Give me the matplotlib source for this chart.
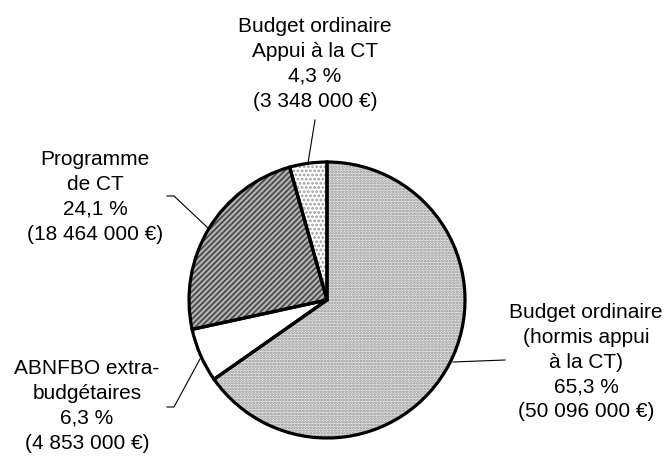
import numpy as np
import matplotlib
matplotlib.use("Agg")
import matplotlib.pyplot as plt

W, H = 666, 459

# slices, clockwise from 12 o'clock
names   = ["Budget ordinaire\n(hormis appui\nà la CT)", "ABNFBO extra-\nbudgétaires",
           "Programme\nde CT", "Budget ordinaire\nAppui à la CT"]
pcts    = ["65,3", "6,3", "24,1", "4,3"]
amounts = [50096000, 4853000, 18464000, 3348000]

faces   = ["#eeeeee", "white", "#b4b4b4", "white"]
hatches = ["......", None, "//////", "...."]
hcols   = ["#8c8c8c", "white", "#4a4a4a", "#9a9a9a"]

# label anchor (centre x, centre y) and leader polyline, in pixels from top-left
label_xy = [(586, 362), (87, 406), (95, 197), (315, 64)]
leaders  = [[(453, 362), (505, 360)],
            [(200, 359), (174, 407), (167, 407)],
            [(208, 228), (174, 196), (167, 196)],
            [(308, 163), (315, 120)]]

CX, CY, R = 327, 300, 138


def fmt_amount(v):
    return f"{v:,}".replace(",", " ") + " €"


plt.rcParams["font.family"] = ["Liberation Sans", "DejaVu Sans"]
plt.rcParams["hatch.linewidth"] = 1.3

fig = plt.figure(figsize=(W / 100, H / 100), dpi=100)
ax = fig.add_axes([0, 0, 1, 1])

# hatched fills first (hatch colour follows edge colour), then black outlines on top
for k in range(len(amounts)):
    w, _ = ax.pie(amounts, startangle=90, counterclock=False,
                  center=(CX, H - CY), radius=R, frame=True)
    for j, wedge in enumerate(w):
        if j != k:
            wedge.remove()
            continue
        wedge.set_facecolor(faces[k])
        wedge.set_edgecolor(hcols[k])
        wedge.set_linewidth(0)
        if hatches[k]:
            wedge.set_hatch(hatches[k])

wedges, _ = ax.pie(amounts, startangle=90, counterclock=False,
                   center=(CX, H - CY), radius=R, frame=True,
                   wedgeprops=dict(facecolor="none", edgecolor="black", linewidth=2.3))
ax.set_xlim(0, W)
ax.set_ylim(0, H)
ax.set_aspect("equal")
ax.axis("off")

for name, pct, amt, (x, y), pts in zip(names, pcts, amounts, label_xy, leaders):
    ax.text(x, H - y, f"{name}\n{pct} %\n({fmt_amount(amt)})",
            ha="center", va="center", multialignment="center",
            fontsize=15, linespacing=1.38, color="black")
    xs, ys = zip(*pts)
    ax.plot(xs, [H - v for v in ys], color="black", lw=0.8)

fig.savefig("out.png", dpi=100)
